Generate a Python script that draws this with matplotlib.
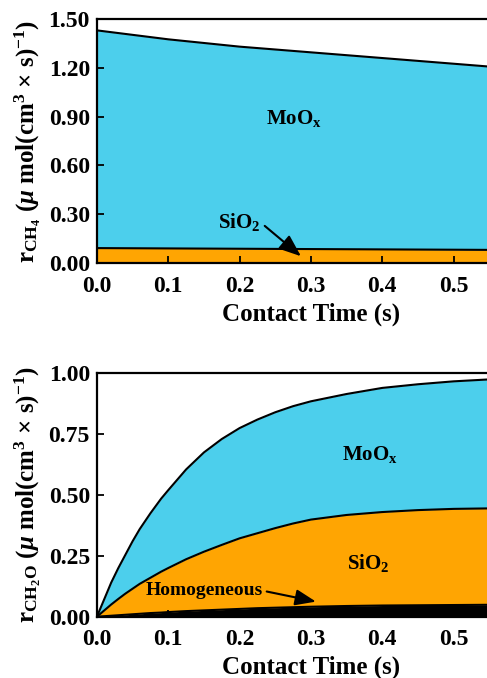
import matplotlib
matplotlib.use("Agg")
import matplotlib.pyplot as plt

plt.rcParams['font.family'] = ['Liberation Serif', 'DejaVu Serif']
plt.rcParams['font.weight'] = 'bold'
plt.rcParams['mathtext.fontset'] = 'custom'
plt.rcParams['mathtext.rm'] = 'Liberation Serif:bold'
plt.rcParams['mathtext.it'] = 'Liberation Serif:bold:italic'
plt.rcParams['mathtext.bf'] = 'Liberation Serif:bold'

CYAN = '#4ccfec'
ORANGE = '#ffa502'

# methane consumption rate vs contact time
t_ch4 = [0.0, 0.1, 0.2, 0.3, 0.4, 0.5, 0.6]
ch4_sio2 = [0.092, 0.090, 0.088, 0.086, 0.084, 0.082, 0.080]
ch4_moox = [1.43, 1.375, 1.33, 1.295, 1.26, 1.225, 1.19]

# formaldehyde formation rate vs contact time (cumulative)
t_ch2o = [0.0, 0.01, 0.02, 0.03, 0.04, 0.05, 0.06, 0.075, 0.09, 0.1,
          0.125, 0.15, 0.175, 0.2, 0.225, 0.25, 0.275, 0.3, 0.35, 0.4,
          0.45, 0.5, 0.55, 0.6]
ch2o_homog = [0.0, 0.002, 0.004, 0.006, 0.008, 0.010, 0.012, 0.015, 0.017, 0.019,
              0.023, 0.026, 0.029, 0.032, 0.035, 0.037, 0.039, 0.041, 0.044, 0.046,
              0.047, 0.048, 0.049, 0.049]
ch2o_sio2 = [0.0, 0.025, 0.05, 0.073, 0.095, 0.115, 0.135, 0.16, 0.185, 0.2,
             0.236, 0.267, 0.295, 0.322, 0.343, 0.364, 0.383, 0.399, 0.418, 0.43,
             0.438, 0.443, 0.445, 0.446]
ch2o_moox = [0.0, 0.07, 0.14, 0.20, 0.255, 0.31, 0.36, 0.425, 0.485, 0.52,
             0.605, 0.675, 0.73, 0.775, 0.81, 0.84, 0.865, 0.885, 0.915, 0.94,
             0.955, 0.967, 0.975, 0.98]

fig = plt.figure(figsize=(4.87, 6.78), dpi=100)
ax1 = fig.add_axes([0.199, 0.612, 0.879, 0.360])
ax2 = fig.add_axes([0.199, 0.0904, 0.879, 0.359])

xt = [0.0, 0.1, 0.2, 0.3, 0.4, 0.5]


def style(ax, yticks):
    ax.set_xlim(0, 0.6)
    ax.set_xticks(xt)
    ax.set_xticklabels(['%.1f' % v for v in xt])
    ax.set_yticks(yticks)
    ax.set_yticklabels(['%.2f' % v for v in yticks])
    ax.set_ylim(yticks[0], yticks[-1])
    for s in ax.spines.values():
        s.set_linewidth(1.6)
    ax.tick_params(axis='both', direction='in', length=5, width=1.3, labelsize=17)
    ax.tick_params(axis='x', pad=9)
    ax.tick_params(axis='y', pad=5)
    ax.set_xlabel('Contact Time (s)', fontsize=18, fontweight='bold', labelpad=4)


arrow = dict(arrowstyle='-|>,head_length=0.9,head_width=0.35',
             color='black', lw=1.5, shrinkA=1, shrinkB=0)

# top panel
ax1.fill_between(t_ch4, 0, ch4_sio2, color=ORANGE, lw=0)
ax1.fill_between(t_ch4, ch4_sio2, ch4_moox, color=CYAN, lw=0)
ax1.plot(t_ch4, ch4_sio2, color='black', lw=1.5)
ax1.plot(t_ch4, ch4_moox, color='black', lw=1.5)
style(ax1, [0.0, 0.3, 0.6, 0.9, 1.2, 1.5])
ax1.set_ylabel(r'r$_{\mathrm{CH_4}}$ ($\mu$ mol(cm$^3$ × s)$^{-1}$)',
               fontsize=18, fontweight='bold', labelpad=4)
ax1.text(0.276, 0.89, r'MoO$_\mathrm{x}$', fontsize=15, ha='center', va='center')
ax1.annotate(r'SiO$_2$', xy=(0.286, 0.042), xytext=(0.2, 0.255), fontsize=15,
             ha='center', va='center',
             arrowprops=dict(arrow, relpos=(1.0, 0.45)))

# bottom panel
ax2.fill_between(t_ch2o, 0, ch2o_homog, color='black', lw=0)
ax2.fill_between(t_ch2o, ch2o_homog, ch2o_sio2, color=ORANGE, lw=0)
ax2.fill_between(t_ch2o, ch2o_sio2, ch2o_moox, color=CYAN, lw=0)
ax2.plot(t_ch2o, ch2o_homog, color='black', lw=1.5)
ax2.plot(t_ch2o, ch2o_sio2, color='black', lw=1.5)
ax2.plot(t_ch2o, ch2o_moox, color='black', lw=1.5)
style(ax2, [0.0, 0.25, 0.5, 0.75, 1.0])
ax2.set_ylabel(r'r$_{\mathrm{CH_2O}}$ ($\mu$ mol(cm$^3$ × s)$^{-1}$)',
               fontsize=18, fontweight='bold', labelpad=4)
ax2.text(0.383, 0.665, r'MoO$_\mathrm{x}$', fontsize=15, ha='center', va='center')
ax2.text(0.38, 0.22, r'SiO$_2$', fontsize=15, ha='center', va='center')
ax2.annotate('Homogeneous', xy=(0.307, 0.062), xytext=(0.15, 0.107), fontsize=14,
             ha='center', va='center',
             arrowprops=dict(arrow, relpos=(1.0, 0.5)))

fig.savefig('out.png', dpi=100)
